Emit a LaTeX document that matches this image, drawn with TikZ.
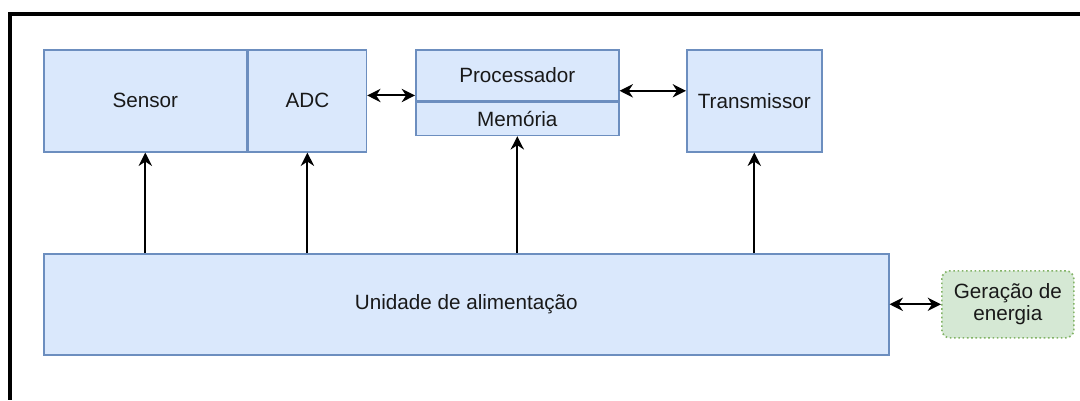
\documentclass[tikz,border=0pt]{standalone}
\usepackage{fontspec}
\setmainfont{Liberation Sans}
\usepackage{tikz}
\usetikzlibrary{arrows.meta, positioning}
\definecolor{boxfill}{HTML}{DAE8FC}
\definecolor{boxline}{HTML}{6C8EBF}
\definecolor{genfill}{HTML}{D5E8D4}
\definecolor{genline}{HTML}{82B366}

\begin{document}
\begin{tikzpicture}[
  x=0.75pt, y=-0.75pt,
  box/.style = {rectangle, draw=boxline, fill=boxfill, line width=1.2pt, inner sep=0pt, anchor=north west, text=black!90, font=\fontsize{15.5}{16.5}\selectfont},
  genbox/.style = {box, draw=genline, fill=genfill, dotted, rounded corners=6pt, align=center},
  >={Stealth[length=10pt, width=10pt]},
  link/.style = {line width=1.5pt, black}
  ]
  \useasboundingbox (0,0) rectangle (1080,400);

  % Cadre
  \draw[line width=3pt] (8,14) -- (1080,14);
  \draw[line width=3pt] (10,12) -- (10,400);

  % Noeuds
  \node[box, minimum width=203*0.75pt, minimum height=102*0.75pt] (sensor) at (43,49) {Sensor};
  \node[box, minimum width=118*0.75pt, minimum height=102*0.75pt, right=0pt of sensor] (adc) {ADC};
  \node[box, minimum width=203*0.75pt, minimum height=51*0.75pt] (proc) at (415,49) {Processador};
  \node[box, minimum width=203*0.75pt, minimum height=33*0.75pt, below=0pt of proc] (mem) {Memória};
  \node[box, minimum width=135*0.75pt, minimum height=102*0.75pt] (trans) at (686,49) {Transmissor};
  \node[box, minimum width=845*0.75pt, minimum height=101*0.75pt] (power) at (43,253) {Unidade de alimentação};
  \node[genbox, minimum width=132*0.75pt, minimum height=67*0.75pt] (gen) at (941,270) {Geração de\\energia};

  % Flèches
  \draw[link, <->] ([yshift=4pt]adc.east) -- ([yshift=4pt]adc.east -| proc.west);
  \draw[link, <->] ([yshift=7.5pt]trans.west -| proc.east) -- ([yshift=7.5pt]trans.west);
  \draw[link, <->] (power) -- (gen);
  \draw[link, ->] (power.north -| sensor.south) -- (sensor.south);
  \draw[link, ->] (power.north -| adc.south) -- (adc.south);
  \draw[link, ->] (power.north -| mem.south) -- (mem.south);
  \draw[link, ->] (power.north -| trans.south) -- (trans.south);

\end{tikzpicture}
\end{document}
